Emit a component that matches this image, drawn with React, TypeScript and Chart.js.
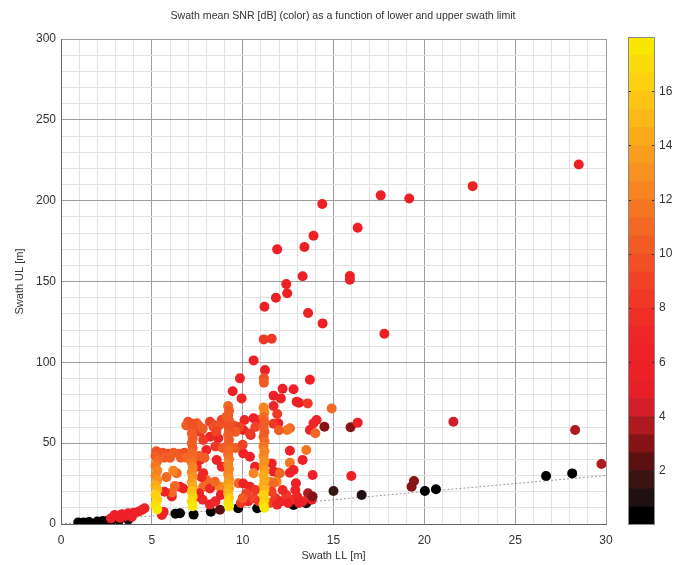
import React, { useEffect, useRef } from "react";
import { Chart, registerables } from "chart.js";
Chart.register(...registerables);

const FONT = '"Liberation Sans", Arial, Helvetica, sans-serif';
const TEXT = "#333333";
const MAJOR_GRID = "#9c9c9c";
const MINOR_GRID = "#e3e3e3";

const TITLE = "Swath mean SNR [dB] (color) as a function of lower and upper swath limit";
const X_TITLE = "Swath LL [m]";
const Y_TITLE = "Swath UL [m]";

// colour scale (bottom to top), range 0..18 dB
const CB_MIN = 0;
const CB_MAX = 18;
const CB_TICKS = [2, 4, 6, 8, 10, 12, 14, 16];
const cmapColors = [
  "#000000", "#1f1111", "#3a1313", "#5c1011", "#861417", "#ae1a20", "#d21e26",
  "#e71f27", "#ed2026", "#ee2126", "#ee2626", "#ef2e26", "#ef3826", "#f04326",
  "#f05026", "#f15c25", "#f26824", "#f47623", "#f58421", "#f7911f", "#f99e1c",
  "#faab1a", "#fcb817", "#fdc414", "#fdd010", "#fbdc0a", "#f8e700",
];

// reference dotted line
const refLL = [0, 30];
const refUL = [0, 30];

// near-diagonal dark points and far outliers
const baseLL = [0.95, 1.25, 1.55, 2.0, 2.3, 2.6, 2.8, 3.2, 3.7, 6.3, 6.55, 7.3, 8.25, 8.75, 9.75, 10.8, 11.05, 12.8, 13.5, 15.0, 16.55, 19.3, 19.43, 20.03, 20.64, 26.7, 28.14, 29.75, 15.98, 28.3, 21.6, 15.94, 16.33];
const baseUL = [1.0, 1.0, 1.2, 1.6, 1.9, 2.2, 2.6, 2.4, 2.7, 6.4, 6.6, 5.8, 7.6, 8.8, 9.8, 9.7, 10.6, 11.8, 12.8, 20.4, 17.9, 23.1, 26.6, 20.4, 21.5, 29.7, 31.3, 37.1, 29.7, 58.1, 63.3, 59.8, 62.7];
const baseSNR = [0.2, 0.3, 0.2, 0.4, 0.3, 0.5, 0.3, 0.4, 0.8, 0.3, 0.3, 0.2, 0.4, 2.6, 0.3, 0.3, 0.6, 0.6, 1.0, 1.5, 1.0, 3.0, 3.2, 0.3, 0.3, 0.3, 0.3, 3.5, 6.0, 3.5, 4.0, 3.0, 6.0];

// small red diagonal group
const diagLL = [2.75, 2.95, 3.25, 3.35, 3.55, 3.7, 3.9, 4.0, 4.25, 4.45, 4.6, 5.55, 5.65];
const diagUL = [3.5, 5.6, 3.8, 6.1, 5.0, 6.6, 4.5, 7.0, 7.6, 8.7, 9.7, 5.6, 7.5];
const diagSNR = [6.5, 6, 5.5, 6, 6, 6.2, 6, 6.5, 6, 6.5, 6, 6, 6.5];

// upper scattered points
const highLL = [28.5, 22.66, 17.6, 19.17, 14.38, 16.33, 13.9, 13.4, 11.9, 13.3, 15.9, 15.9, 12.4, 12.45, 11.83, 11.2, 13.6, 14.4, 17.8, 11.16, 11.6, 10.6, 11.23, 11.17, 11.17, 9.85, 9.45, 12.2, 12.8, 13.7, 9.94, 11.7, 12.1, 13.1, 13.58, 12.97, 14.9];
const highUL = [222.4, 209, 203.3, 201.4, 197.9, 183.2, 178.3, 171.3, 169.9, 153.2, 153.4, 151.1, 148.4, 142.7, 140, 134.4, 130.5, 124.1, 117.7, 114.2, 114.6, 101.2, 95.2, 90.1, 87.4, 90.1, 82.1, 83.7, 83.3, 89.2, 77.7, 79.4, 77.7, 75, 74.6, 75.6, 71.5];
const highSNR = [5.8, 5.8, 5.8, 5.8, 5.8, 5.8, 5.8, 5.8, 5.8, 5.8, 5.5, 5.5, 5.8, 5.8, 5.8, 5.8, 5.8, 5.8, 5.8, 8.2, 8.2, 6, 6.5, 9.8, 10.5, 6, 6, 6, 6, 5.8, 7, 6, 6.5, 6, 8.5, 6, 11];

// mid-range scattered points
const midLL = [14.07, 13.9, 13.7, 14.0, 14.5, 12.6, 12.45, 11.96, 10.44, 10.03, 13.5, 12.6, 13.3, 12.6, 11.96, 12.6, 13.85, 12.93, 11.87, 11.5, 10.03, 10.4, 10.68, 9.76, 11.7, 11.6, 12.8, 10.6, 12.05, 11.7, 10.03, 10.4, 10.1, 10.6, 10.95, 8.84, 9.1, 8.4, 8.2, 7.47, 7.0, 8.2, 8.66, 8.57, 8.85, 8.0, 7.83, 7.65, 7.65, 7.47, 7.83, 8.0, 7.83, 8.38, 8.75, 7.74, 8.2, 8.47, 6.73, 6.55, 6.1, 6.27, 6.1, 5.7, 5.8, 6.37, 6.18, 9.9, 10.3, 10.6, 10.9, 11.5, 11.8, 12.1, 12.4, 12.7, 13.0, 13.3, 13.8, 10.2, 10.7, 11.6, 12.2, 12.9, 13.6, 13.85, 10.0, 11.9, 12.5, 13.1, 7.8, 8.2, 8.5, 8.8, 7.6, 7.47, 11.7, 11.7, 11.9, 12.0, 10.7, 10.4];
const midUL = [64.3, 62.3, 58.1, 56.1, 60.2, 59.2, 58.1, 62.3, 55, 58.1, 45.8, 45.3, 39.6, 37.9, 31.7, 31.7, 30.3, 25.2, 26.2, 26.2, 43.7, 41.6, 35.4, 25.2, 32.4, 37.5, 33.4, 31.4, 31.4, 25.2, 25, 23, 64.3, 65.4, 64.3, 64.3, 66.3, 61.2, 63.3, 62.3, 63.3, 54, 53, 39.6, 35.4, 45.8, 52, 57, 39.6, 35.4, 31.4, 27.2, 23, 24, 23, 28.9, 22, 26.2, 22, 23, 17, 23.5, 19.5, 20, 29, 31.4, 33, 13, 14, 16, 14, 13, 16, 14, 18, 15, 17, 14, 15, 19, 21, 20, 21, 21, 19, 17, 16, 12, 13, 13, 15, 12, 14, 18, 19, 17, 62, 73, 68, 58, 60, 56];
const midSNR = [6, 7, 6, 11, 3, 11, 11.5, 6, 6, 6, 11.5, 6, 6, 11.5, 6, 6, 6, 6, 12, 12.5, 6, 6, 6, 11, 6, 6, 6, 12, 11, 11, 6, 7, 7, 6, 7, 9, 10, 9, 9, 9.5, 9.5, 7, 7, 6, 7, 7, 8, 8, 7, 7, 7, 11, 11, 11, 12, 7, 7, 11, 6, 6, 6, 11, 11, 6, 11, 11, 12, 8, 7, 9, 8, 9, 8, 7, 8, 8, 7, 6, 5, 9, 8, 9, 7, 6, 3.5, 3, 10, 7, 6, 5, 7, 6, 7, 6, 7, 6, 8, 7, 8, 10, 9, 8];

// dense vertical columns (top to bottom so the yellow ends lie on top)
const colLL = [
  5.6, 5.9, 6.2, 6.5, 6.8, 5.7, 6.0, 6.6, 6.9, 7.6, 7.9,
  5.25, 5.2, 5.3, 5.2, 5.3, 5.2, 5.3, 5.2, 5.3, 5.2, 5.3, 5.2, 5.3,
  6.9, 7.55, 7.8, 7.2, 7.25, 7.2, 7.25, 7.2, 7.25, 7.2, 7.25, 7.2, 7.25, 7.2, 7.25, 7.2, 7.25, 7.2, 7.25, 7.2, 7.25,
  8.4, 8.7, 9.5, 9.8, 8.55, 9.6, 8.5, 8.9, 9.6, 10.0,
  9.2, 9.25, 9.2, 9.25, 9.2, 9.25, 9.2, 9.25, 9.2, 9.25, 9.2, 9.25, 9.2, 9.25, 9.2, 9.25, 9.2, 9.25, 9.2, 9.25, 9.2, 9.25,
  11.15, 11.2, 11.15, 11.2, 11.15, 11.2, 11.15, 11.2, 11.15, 11.2, 11.15, 11.2, 11.15, 11.2, 11.15, 11.2, 11.15, 11.2, 11.15, 11.2, 11.15, 11.2,
];
const colUL = [
  44, 43.5, 44, 43.5, 44, 41, 41, 41, 41, 42, 41,
  45, 42, 39, 36, 33, 30, 27, 24, 21, 18, 15, 12, 9,
  61, 61, 59, 62, 59, 56, 53, 50, 47, 44, 41, 38, 35, 32, 29, 26, 23, 20, 17, 14, 11,
  60, 61, 61, 60, 57, 57, 48, 47, 47, 49,
  73, 70, 67, 64, 61, 58, 55, 52, 49, 46, 43, 40, 37, 34, 31, 28, 25, 22, 19, 16, 13, 11,
  72, 69, 66, 63, 60, 57, 54, 51, 48, 45, 42, 39, 36, 33, 30, 27, 24, 21, 18, 15, 12, 10,
];
const colSNR = [
  9.5, 9.5, 10, 10, 9.5, 10.5, 10.5, 10.5, 11, 10, 10,
  9.5, 10, 11, 11.5, 12, 12.5, 13, 14, 15, 16, 16.5, 17, 17.5,
  10, 10, 10, 9.5, 9.5, 10, 10, 10, 10.5, 11, 11, 11.5, 12, 12.5, 13, 13.5, 14.5, 15.5, 16.5, 17, 17.5,
  9.5, 9.5, 9.5, 9, 9, 10, 8.5, 10, 10, 9,
  11, 10.5, 10, 10, 9.5, 9.5, 10, 10, 10.5, 11, 11, 11.5, 12, 12, 12.5, 13, 13.5, 14, 15, 16, 17, 17.5,
  12, 12, 11, 10.5, 10, 10, 10.5, 11, 11.5, 12, 12.5, 13, 13, 13.5, 14, 14, 14.5, 15, 16, 16.5, 17, 17.5,
];

function colorFor(v: number): string {
  const n = cmapColors.length;
  let i = Math.floor(((v - CB_MIN) / (CB_MAX - CB_MIN)) * n);
  if (i < 0) i = 0;
  if (i > n - 1) i = n - 1;
  return cmapColors[i];
}

function pts(xs: number[], ys: number[]) {
  return xs.map((x, i) => ({ x, y: ys[i] }));
}

function scatterSet(xs: number[], ys: number[], snr: number[], order: number) {
  const colors = snr.map(colorFor);
  return {
    type: "scatter" as const,
    data: pts(xs, ys),
    pointRadius: 5,
    pointHoverRadius: 5,
    pointBackgroundColor: colors,
    pointBorderColor: colors,
    pointBorderWidth: 0,
    order,
  };
}

export default function App() {
  const mainRef = useRef<HTMLCanvasElement>(null);
  const cbRef = useRef<HTMLCanvasElement>(null);

  useEffect(() => {
    const tickFont = { family: FONT, size: 12 };
    const titleFont = { family: FONT, size: 11, weight: "normal" as const };

    const main = new Chart(mainRef.current!, {
      type: "scatter",
      data: {
        datasets: [
          scatterSet(colLL, colUL, colSNR, 0),
          scatterSet(midLL, midUL, midSNR, 1),
          scatterSet(highLL, highUL, highSNR, 2),
          scatterSet(diagLL, diagUL, diagSNR, 3),
          scatterSet(baseLL, baseUL, baseSNR, 4),
          {
            type: "scatter" as const,
            data: pts(refLL, refUL),
            showLine: true,
            borderColor: "#9a9a9a",
            borderWidth: 1,
            borderDash: [2, 2],
            pointRadius: 0,
            order: 5,
          },
        ],
      },
      options: {
        animation: false,
        responsive: false,
        events: [],
        layout: { padding: 0 },
        plugins: {
          legend: { display: false },
          tooltip: { enabled: false },
          title: {
            display: true,
            text: TITLE,
            font: { family: FONT, size: 10.6, weight: "normal" as const },
            color: TEXT,
            padding: { top: 10, bottom: 16.3 },
          },
        },
        scales: {
          x: {
            type: "linear",
            min: 0,
            max: 30,
            afterFit: (s: any) => {
              s.height = 41;
            },
            ticks: {
              stepSize: 1,
              autoSkip: false,
              maxRotation: 0,
              padding: 9,
              font: tickFont,
              color: TEXT,
              callback: (v: any) => (Number(v) % 5 === 0 ? String(v) : ""),
            },
            grid: {
              drawTicks: false,
              color: (ctx: any) => (ctx.tick && ctx.tick.value % 5 === 0 ? MAJOR_GRID : MINOR_GRID),
            },
            border: { color: "#666666" },
            title: {
              display: true,
              text: X_TITLE,
              font: titleFont,
              color: TEXT,
              padding: { top: 0, bottom: 2.4 },
            },
          },
          y: {
            type: "linear",
            min: 0,
            max: 300,
            afterFit: (s: any) => {
              s.width = 61;
            },
            ticks: {
              stepSize: 10,
              autoSkip: false,
              padding: 5,
              font: tickFont,
              color: TEXT,
              callback: (v: any) => (Number(v) % 50 === 0 ? String(v) : ""),
            },
            grid: {
              drawTicks: false,
              color: (ctx: any) => (ctx.tick && ctx.tick.value % 50 === 0 ? MAJOR_GRID : MINOR_GRID),
            },
            border: { color: "#666666" },
            title: {
              display: true,
              text: Y_TITLE,
              font: titleFont,
              color: TEXT,
              padding: { top: 13.4, bottom: 0 },
            },
          },
          // empty right-hand axis that reserves the space occupied by the colour bar
          spacer: {
            type: "linear",
            position: "right",
            min: 0,
            max: 1,
            afterFit: (s: any) => {
              s.width = 80;
            },
            ticks: { display: false },
            grid: { display: false, drawTicks: false },
            border: { display: false },
          },
        },
      },
    });

    const n = cmapColors.length;
    const cbFrame = {
      id: "cbFrame",
      afterDraw(chart: any) {
        const { ctx, chartArea } = chart;
        const ys = chart.scales.y;
        ctx.save();
        ctx.strokeStyle = "#333333";
        ctx.lineWidth = 1;
        CB_TICKS.forEach((t) => {
          const y = Math.round(ys.getPixelForValue(t)) + 0.5;
          ctx.beginPath();
          ctx.moveTo(chartArea.left, y);
          ctx.lineTo(chartArea.left + 3, y);
          ctx.moveTo(chartArea.right - 3, y);
          ctx.lineTo(chartArea.right, y);
          ctx.stroke();
        });
        ctx.strokeStyle = "#8a8a8a";
        ctx.strokeRect(
          Math.round(chartArea.left) + 0.5,
          Math.round(chartArea.top) + 0.5,
          Math.round(chartArea.right - chartArea.left) - 1,
          Math.round(chartArea.bottom - chartArea.top) - 1
        );
        ctx.restore();
      },
    };

    const cb = new Chart(cbRef.current!, {
      type: "bar",
      data: {
        labels: [""],
        datasets: cmapColors.map((c, i) => ({
          data: [[CB_MIN + ((CB_MAX - CB_MIN) * i) / n, CB_MIN + ((CB_MAX - CB_MIN) * (i + 1)) / n]] as any,
          backgroundColor: c,
          borderWidth: 0,
          barPercentage: 1,
          categoryPercentage: 1,
          grouped: false,
        })),
      },
      options: {
        animation: false,
        responsive: false,
        events: [],
        layout: { padding: { left: 28, right: 0, top: 37, bottom: 40 } },
        plugins: { legend: { display: false }, tooltip: { enabled: false } },
        scales: {
          x: { display: false },
          y: {
            position: "right",
            min: CB_MIN,
            max: CB_MAX,
            afterFit: (s: any) => {
              s.width = 31;
            },
            ticks: {
              stepSize: 2,
              padding: 4,
              font: tickFont,
              color: TEXT,
              callback: (v: any) => (CB_TICKS.includes(Number(v)) ? String(v) : ""),
            },
            grid: { display: false, drawTicks: false },
            border: { display: false },
          },
        },
      },
      plugins: [cbFrame],
    });

    return () => {
      main.destroy();
      cb.destroy();
    };
  }, []);

  return (
    <div style={{ position: "fixed", left: 0, top: 0, width: 686, height: 565, background: "#ffffff" }}>
      <canvas ref={mainRef} width={686} height={565} style={{ position: "absolute", left: 0, top: 0 }} />
      <canvas ref={cbRef} width={86} height={565} style={{ position: "absolute", left: 600, top: 0 }} />
    </div>
  );
}
